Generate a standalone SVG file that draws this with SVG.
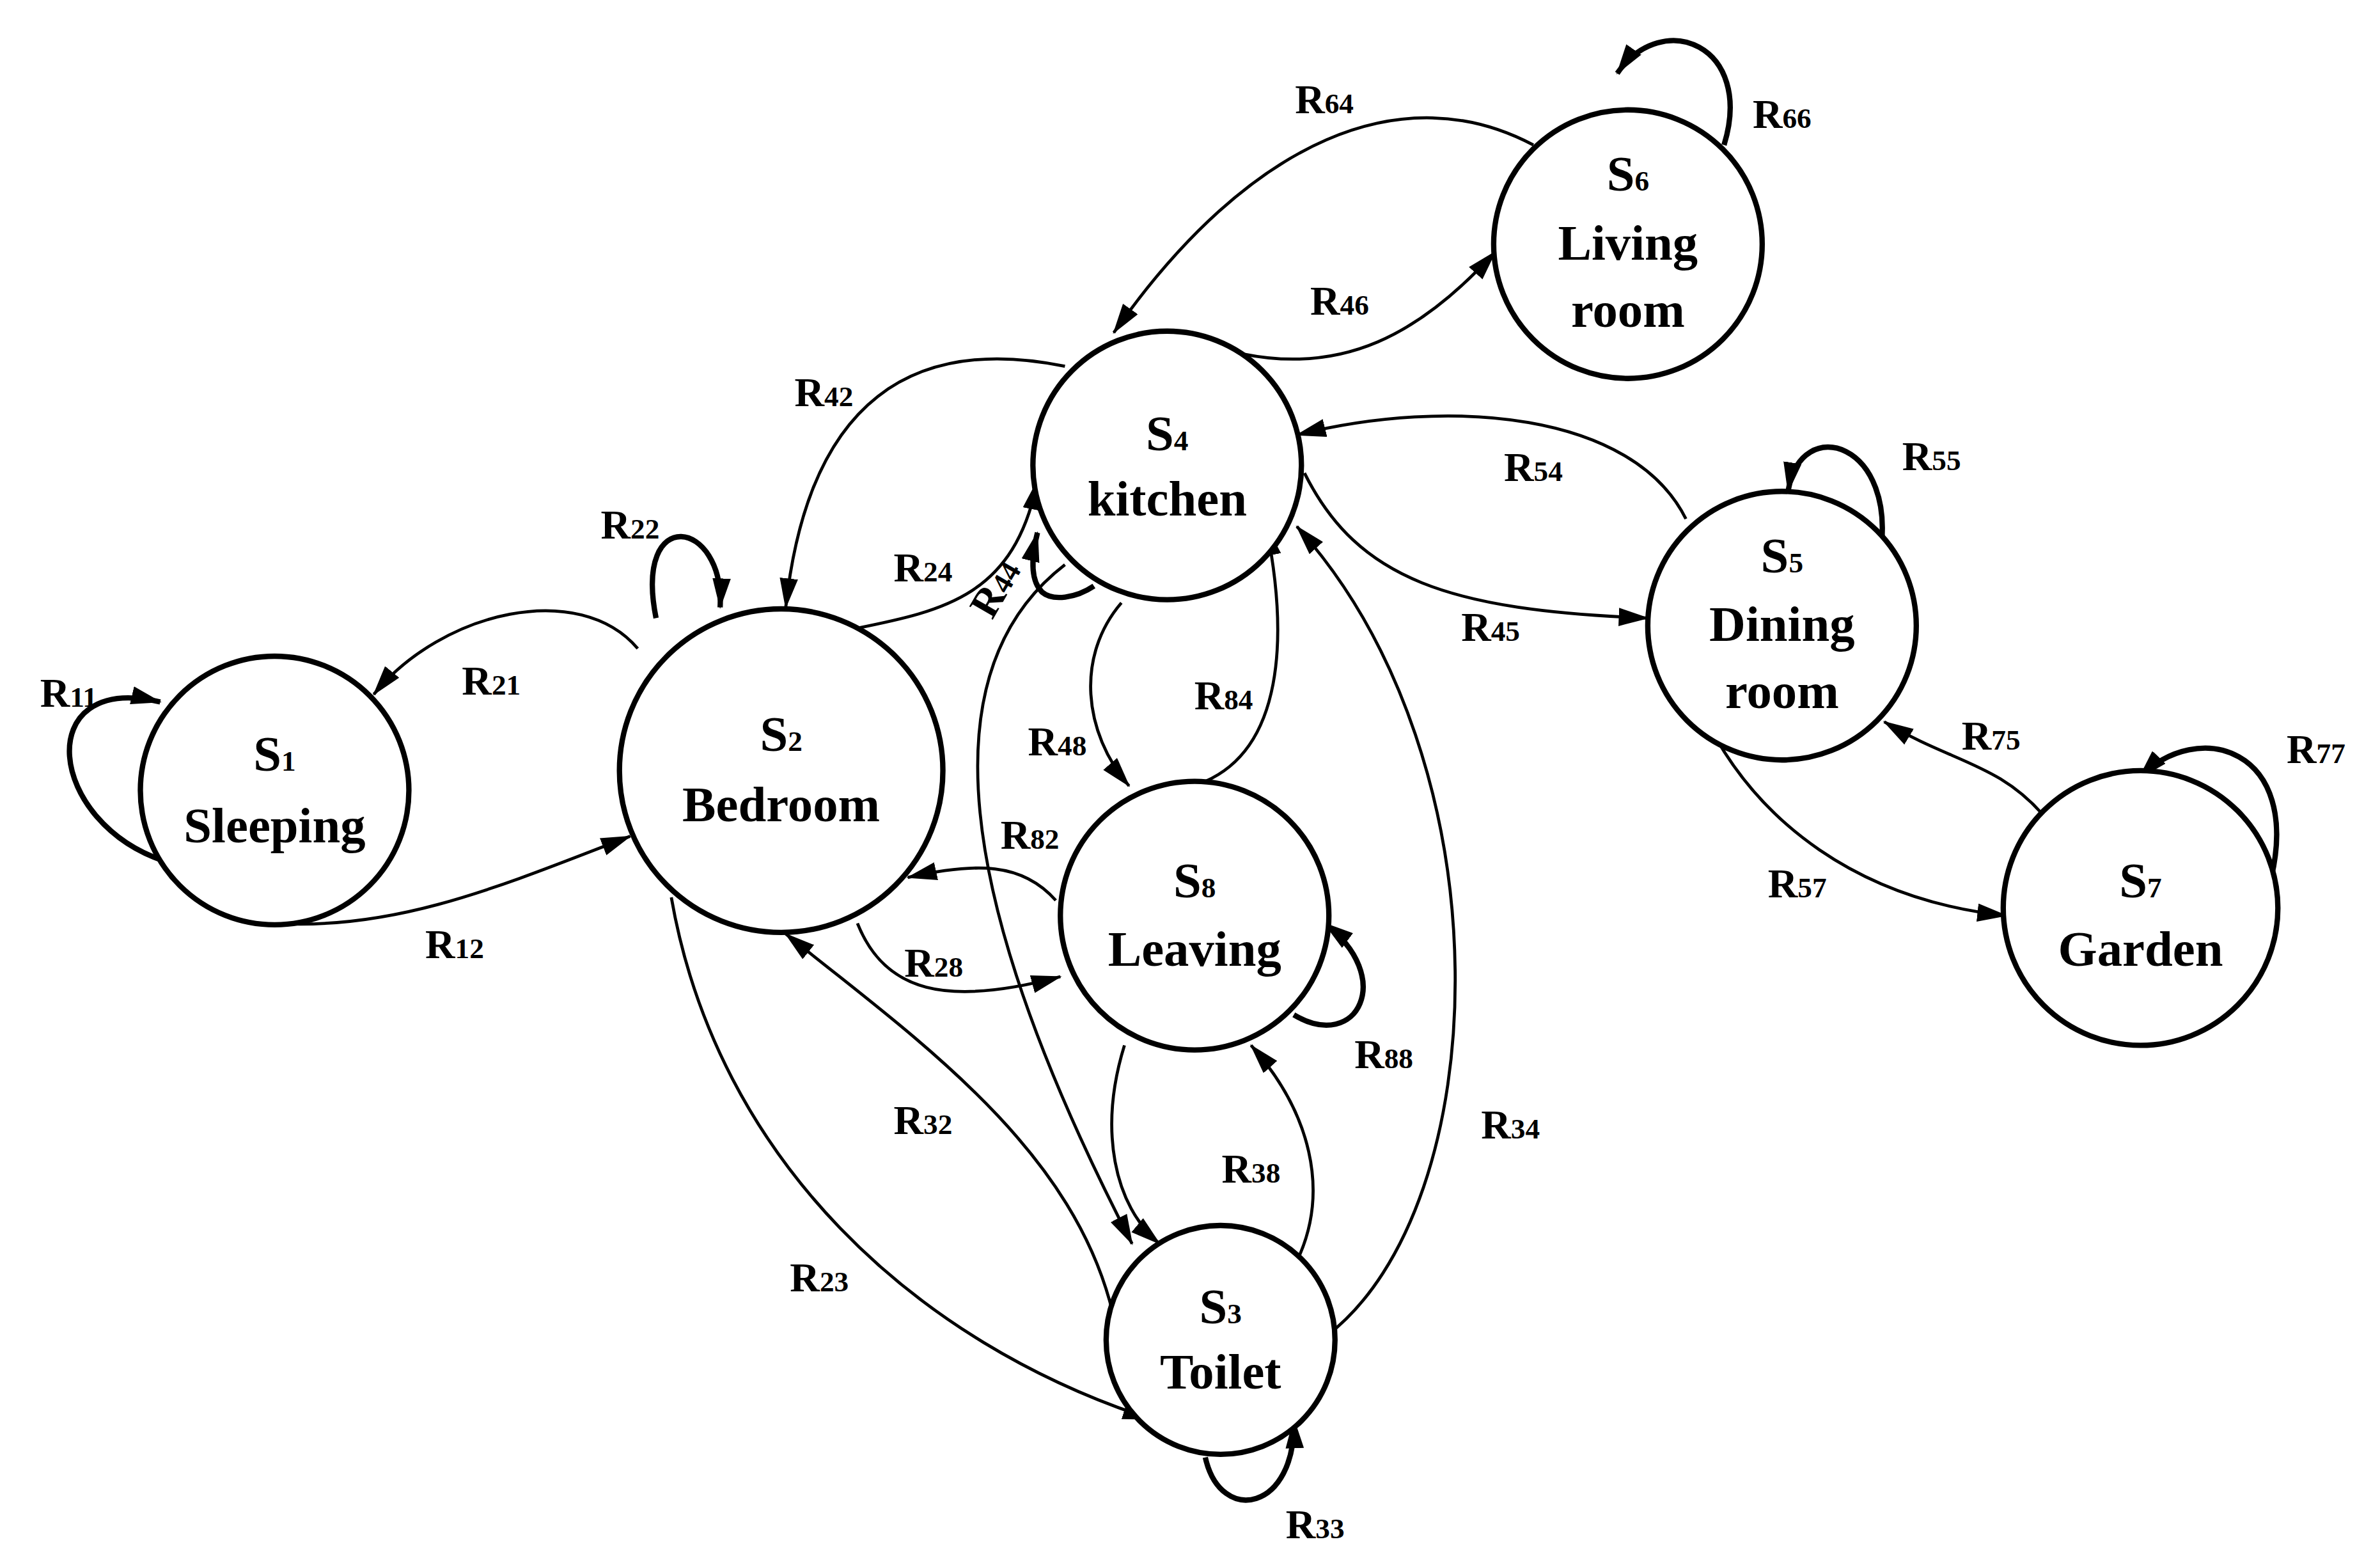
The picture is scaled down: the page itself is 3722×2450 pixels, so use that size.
<svg xmlns="http://www.w3.org/2000/svg" width="3722" height="2450" viewBox="0 0 3722 2450">
<style>
.n{fill:#fff;stroke:#000;stroke-width:3.5}
.e{fill:none;stroke:#000;stroke-width:2;marker-end:url(#a)}
.l{fill:none;stroke:#000;stroke-width:3.5;marker-end:url(#a)}
text{font-family:"Liberation Serif","Times New Roman",serif;font-weight:bold;fill:#000}
.t{font-size:33px;text-anchor:middle}
.r{font-size:27px;text-anchor:middle}
.s{font-size:19px}
</style>
<defs>
<marker id="a" markerUnits="userSpaceOnUse" viewBox="0 0 20 12" markerWidth="20" markerHeight="12" refX="19" refY="6" orient="auto">
<path d="M0,0 L20,6 L0,12 Z" fill="#000"/>
</marker>
</defs>
<rect width="3722" height="2450" fill="#fff"/>
<g transform="scale(2.386)">
<g id="connectors">
<path class="l" d="M110 565 C30 540,20 440,105 460"/>
<path class="e" d="M180 605 C260 610,330 580,413 548"/>
<path class="e" d="M418 425 C380 380,290 400,245 455"/>
<path class="l" d="M430 405 C415 330,475 340,472 398"/>
<path class="e" d="M440 588 C470 760,600 880,755 930"/>
<path class="e" d="M728 855 C700 750,600 680,515 612"/>
<path class="e" d="M560 412 C620 400,665 390,680 315"/>
<path class="e" d="M698 240 C600 220,530 260,515 398"/>
<path class="l" d="M717 384 C705 392,690 394,683 388 C675 380,676 365,680 349"/>
<path class="e" d="M698 370 C620 430,610 560,742 815"/>
<path class="e" d="M562 605 C580 650,620 660,695 640"/>
<path class="e" d="M692 590 C670 565,640 565,595 575"/>
<path class="e" d="M735 395 C705 430,710 480,740 515"/>
<path class="e" d="M790 512 C840 490,845 420,830 345"/>
<path class="e" d="M737 685 C720 740,730 790,760 815"/>
<path class="e" d="M852 822 C870 780,860 730,820 685"/>
<path class="l" d="M790 955 C800 1000,850 990,848 930"/>
<path class="e" d="M870 875 C980 790,990 500,850 345"/>
<path class="l" d="M848 665 C890 690,915 640,868 605"/>
<path class="e" d="M855 310 C890 380,950 400,1080 405"/>
<path class="e" d="M1105 340 C1070 270,950 260,850 285"/>
<path class="e" d="M815 232 C880 245,930 220,980 165"/>
<path class="e" d="M1005 95 C920 50,820 90,730 218"/>
<path class="l" d="M1130 95 C1150 30,1090 5,1060 48"/>
<path class="l" d="M1232 365 C1245 290,1180 270,1172 322"/>
<path class="e" d="M1115 465 C1150 540,1220 590,1315 600"/>
<path class="e" d="M1340 535 C1310 500,1280 500,1235 473"/>
<path class="l" d="M1488 578 C1510 490,1440 470,1402 510"/>
</g>
<g id="S1"><circle class="n" cx="180" cy="518" r="88"/><text class="t" x="180" y="505">S<tspan class="s">1</tspan></text><text class="t" x="180" y="552">Sleeping</text></g>
<g id="S2"><circle class="n" cx="512" cy="505" r="106"/><text class="t" x="512" y="492">S<tspan class="s">2</tspan></text><text class="t" x="512" y="538">Bedroom</text></g>
<g id="S4"><circle class="n" cx="765" cy="305" r="88"/><text class="t" x="765" y="295">S<tspan class="s">4</tspan></text><text class="t" x="765" y="338">kitchen</text></g>
<g id="S6"><circle class="n" cx="1067" cy="160" r="88"/><text class="t" x="1067" y="125">S<tspan class="s">6</tspan></text><text class="t" x="1067" y="170">Living</text><text class="t" x="1067" y="214">room</text></g>
<g id="S5"><circle class="n" cx="1168" cy="410" r="88"/><text class="t" x="1168" y="375">S<tspan class="s">5</tspan></text><text class="t" x="1168" y="420">Dining</text><text class="t" x="1168" y="464">room</text></g>
<g id="S7"><circle class="n" cx="1403" cy="595" r="90"/><text class="t" x="1403" y="588">S<tspan class="s">7</tspan></text><text class="t" x="1403" y="633">Garden</text></g>
<g id="S8"><circle class="n" cx="783" cy="600" r="88"/><text class="t" x="783" y="588">S<tspan class="s">8</tspan></text><text class="t" x="783" y="633">Leaving</text></g>
<g id="S3"><circle class="n" cx="800" cy="878" r="75"/><text class="t" x="800" y="867">S<tspan class="s">3</tspan></text><text class="t" x="800" y="910">Toilet</text></g>
<g id="labels">
<text class="r" x="45" y="463">R<tspan class="s">11</tspan></text>
<text class="r" x="322" y="455">R<tspan class="s">21</tspan></text>
<text class="r" x="298" y="628">R<tspan class="s">12</tspan></text>
<text class="r" x="413" y="353">R<tspan class="s">22</tspan></text>
<text class="r" x="540" y="266">R<tspan class="s">42</tspan></text>
<text class="r" x="605" y="381">R<tspan class="s">24</tspan></text>
<text class="r" transform="translate(660,390) rotate(-60)">R<tspan class="s">44</tspan></text>
<text class="r" x="693" y="495">R<tspan class="s">48</tspan></text>
<text class="r" x="802" y="465">R<tspan class="s">84</tspan></text>
<text class="r" x="675" y="556">R<tspan class="s">82</tspan></text>
<text class="r" x="612" y="640">R<tspan class="s">28</tspan></text>
<text class="r" x="605" y="743">R<tspan class="s">32</tspan></text>
<text class="r" x="537" y="846">R<tspan class="s">23</tspan></text>
<text class="r" x="820" y="775">R<tspan class="s">38</tspan></text>
<text class="r" x="862" y="1008">R<tspan class="s">33</tspan></text>
<text class="r" x="990" y="746">R<tspan class="s">34</tspan></text>
<text class="r" x="907" y="700">R<tspan class="s">88</tspan></text>
<text class="r" x="977" y="420">R<tspan class="s">45</tspan></text>
<text class="r" x="1005" y="315">R<tspan class="s">54</tspan></text>
<text class="r" x="878" y="206">R<tspan class="s">46</tspan></text>
<text class="r" x="868" y="74">R<tspan class="s">64</tspan></text>
<text class="r" x="1168" y="84">R<tspan class="s">66</tspan></text>
<text class="r" x="1266" y="308">R<tspan class="s">55</tspan></text>
<text class="r" x="1305" y="491">R<tspan class="s">75</tspan></text>
<text class="r" x="1518" y="500">R<tspan class="s">77</tspan></text>
<text class="r" x="1178" y="588">R<tspan class="s">57</tspan></text>
</g>
</g>
</svg>
